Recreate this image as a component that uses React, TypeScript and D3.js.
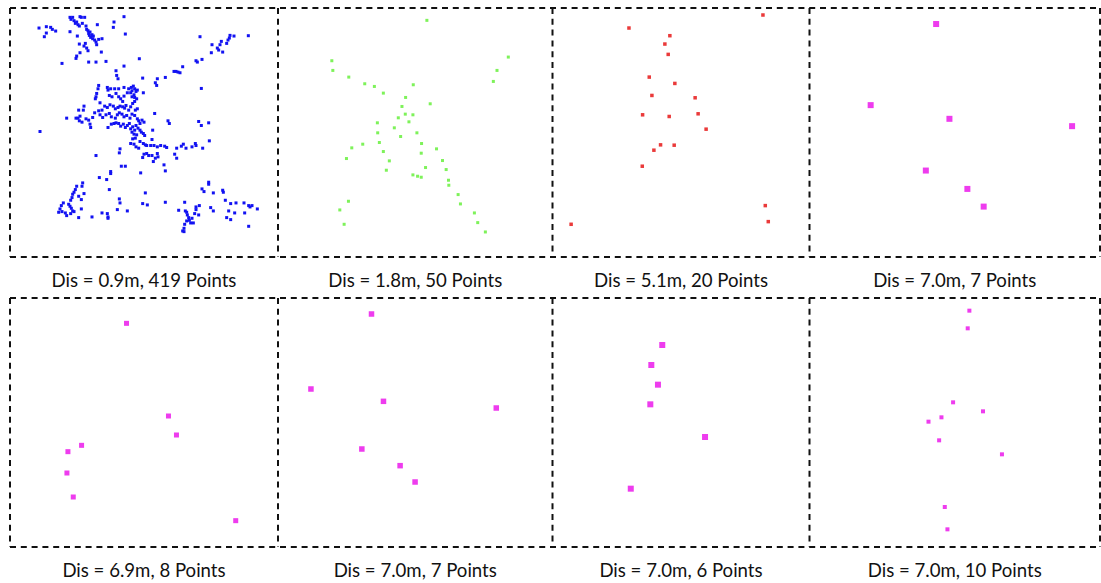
import React, { useEffect, useRef } from 'react'
import * as d3 from 'd3'

// point readings per scan, in the local frame units of each panel
const pts09 = [
  [117,84],[133,110],[139,99],[139,80],[152,82],[157,88],[167,93],
  [210,52],[213,58],[218,52],[222,62],[226,70],[230,66],[234,74],[238,78],[240,50],[244,52],[247,70],[254,52],[258,78],
  [260,88],[264,92],[266,100],[268,106],[270,96],[272,112],[276,104],[278,116],[280,108],[284,120],[288,126],[290,134],
  [292,74],[296,118],[306,116],[210,95],[232,108],[238,132],[252,138],[260,144],[264,152],[256,130],[304,156],[230,168],
  [228,175],[240,158],[186,190],[266,186],[288,186],[318,184],[342,66],[340,82],[372,50],[376,102],
  [600,110],[745,107],[690,106],[702,108],[688,114],[684,120],[680,130],[664,124],[660,134],[636,134],[652,144],[656,150],
  [668,156],[634,158],[606,178],[588,182],[592,186],[548,200],[534,216],[522,214],[528,214],[540,218],[496,232],[472,236],
  [466,248],[470,256],[604,265],[418,176],[372,198],[348,212],[350,226],[354,236],[428,234],
  [296,256],[294,266],[290,280],[288,290],[286,296],[322,262],[324,270],[332,266],[344,266],[356,266],[372,262],[386,266],
  [394,262],[400,258],[404,266],[396,272],[392,278],[408,274],[412,270],[402,284],[396,290],[404,292],[410,296],[404,304],
  [398,310],[430,278],[328,286],[336,290],[348,280],[356,290],[362,296],[372,288],[382,278],[368,304],[300,308],[314,318],
  [306,330],[322,322],[330,314],[340,318],[346,326],[354,322],[360,318],[368,320],[374,324],[378,316],[386,330],[392,320],
  [406,330],[412,326],[252,318],[250,330],[236,330],[228,354],[234,354],[240,348],[238,362],[246,366],[258,356],[266,360],
  [270,372],[272,382],[278,352],[284,338],[296,332],[300,344],[200,354],[308,352],[318,344],[328,340],[334,350],[346,354],
  [352,344],[358,338],[366,342],[372,350],[380,346],[390,354],[396,342],[404,346],[412,356],[416,362],[420,370],[426,360],
  [432,366],[464,340],[324,382],[334,372],[342,370],[348,368],[356,370],[362,378],[370,372],[376,382],[382,376],[388,370],
  [392,386],[398,380],[404,390],[408,376],[414,384],[420,390],[424,396],[430,400],[434,406],[396,396],[402,402],[410,404],
  [406,414],[398,416],[392,430],[402,432],[408,440],[416,444],[420,424],[430,430],[436,434],[458,390],[456,418],[120,394],
  [504,362],[508,370],[596,364],[604,376],[626,368],[628,422],[440,436],[452,436],[462,436],[472,440],[482,436],[494,438],
  [500,442],[472,460],[474,470],[466,474],[460,484],[456,466],[446,466],[432,462],[428,472],[440,460],[530,444],[524,462],
  [530,474],[544,438],[550,432],[558,444],[576,440],[586,430],[588,436],[608,444],[492,494],[496,512],[360,446],[358,458],
  [288,466],[364,498],[376,498],[332,514],[332,520],[298,532],[320,538],[422,518],
  [248,548],[246,558],[230,558],[226,568],[222,576],[218,582],[252,580],[216,592],[212,600],[206,612],[210,618],[214,624],
  [218,632],[190,608],[184,616],[180,626],[176,636],[186,634],[196,638],[200,646],[212,640],[222,634],[236,652],[244,626],
  [244,598],[236,588],[276,650],[306,638],[322,640],[324,650],[324,654],[352,628],[358,596],[360,608],[382,632],[328,568],
  [436,578],[428,610],[442,614],[496,606],
  [626,546],[626,552],[606,566],[612,574],[640,578],[668,570],[670,576],[676,600],[692,610],[708,608],[732,608],[746,616],
  [750,620],[756,616],[772,626],[734,638],[704,638],[686,632],[680,652],[692,658],[746,678],[632,622],[640,632],[598,616],
  [588,620],[588,628],[584,640],[596,644],[554,606],[536,630],[556,632],[560,636],[562,644],[566,652],[568,660],[572,668],
  [560,662],[554,672],[552,684],[548,692],[552,694],[576,654],[580,668]
]
const pts18 = [
  [456,61],[170,182],[173,211],[221,231],[269,251],[298,259],[325,279],[415,254],[392,292],[381,319],[466,311],[391,342],
  [414,344],[370,353],[402,365],[358,383],[307,368],[308,398],[377,409],[426,398],[313,427],[440,430],[230,443],[263,432],
  [214,475],[325,454],[439,459],[485,446],[343,482],[334,510],[503,481],[452,502],[414,524],[428,528],[439,531],[514,508],
  [521,540],[522,555],[550,583],[557,611],[599,638],[609,667],[632,695],[220,603],[194,629],[207,672],[701,171],[667,211],
  [656,244]
]
const pts51 = [
  [655,45],[252,84],[375,107],[360,132],[370,163],[313,231],[390,250],[321,286],[451,293],[293,344],[373,349],[460,341],
  [484,387],[347,434],[388,435],[327,450],[292,498],[662,616],[671,664],[78,672]
]
const pts70a = [[393,72],[196,315],[433,356],[802,378],[362,511],[487,566],[536,619]]
const pts69 = [[380,116],[506,394],[530,451],[245,482],[204,501],[201,565],[220,637],[708,708]]
const pts70b = [[291,88],[109,313],[327,350],[666,370],[262,493],[377,543],[422,592]]
const pts70c = [[353,181],[320,241],[340,300],[317,359],[482,457],[258,612]]
const pts70d = [[493,78],[488,131],[444,353],[534,380],[409,398],[370,411],[402,467],[591,509],[419,667],[427,734]]

const captions = [
  'Dis = 0.9m, 419 Points', 'Dis = 1.8m, 50 Points', 'Dis = 5.1m, 20 Points', 'Dis = 7.0m, 7 Points',
  'Dis = 6.9m, 8 Points', 'Dis = 7.0m, 7 Points', 'Dis = 7.0m, 6 Points', 'Dis = 7.0m, 10 Points'
]
// frame extent of each panel in the same units as the readings
const frameX = [[30,834],[8,834],[22,795],[12,886],[30,835],[10,835],[22,797],[12,886]]
const frameY = [[24,770],[24,770],[24,770],[24,770],[40,787],[40,787],[40,787],[40,787]]
const colors = ['#1212f2', '#7ef25a', '#ea3a3a', '#ee3cee', '#ee3cee', '#ee3cee', '#ee3cee', '#ee3cee']
const sizes = [3, 3, 3.5, 6, 5, 5.5, 6, 4]

const panelPoints = [pts09, pts18, pts51, pts70a, pts69, pts70b, pts70c, pts70d]

export default function App() {
  const svgRef = useRef(null)

  useEffect(() => {
    const W = 1101, H = 583
    const cols = [10, 278, 552.5, 809.5, 1100]
    const rows = [[8, 257], [298, 547]]

    const svg = d3.select(svgRef.current)
    svg.selectAll('*').remove()
    svg.attr('width', W).attr('height', H)
    svg.append('rect').attr('width', W).attr('height', H).attr('fill', '#fff')

    panelPoints.forEach((pts, i) => {
      const c = i % 4, r = Math.floor(i / 4)
      const x0 = cols[c], x1 = cols[c + 1]
      const [y0, y1] = rows[r]
      const x = d3.scaleLinear().domain(frameX[i]).range([x0, x1])
      const y = d3.scaleLinear().domain(frameY[i]).range([y0, y1])
      const g = svg.append('g').attr('class', 'panel')

      const s = sizes[i]
      g.selectAll('rect.pt')
        .data(pts)
        .enter().append('rect')
          .attr('class', 'pt')
          .attr('x', d => x(d[0]) - s / 2)
          .attr('y', d => y(d[1]) - s / 2)
          .attr('width', s)
          .attr('height', s)
          .attr('fill', colors[i])

      g.append('text')
        .attr('x', (x0 + x1) / 2)
        .attr('y', y1 + 30)
        .attr('text-anchor', 'middle')
        .style('font-family', 'Lato, "Open Sans", sans-serif')
        .style('font-size', '18.6px')
        .attr('fill', '#111')
        .text(captions[i])
    })

    // dashed frames: shared edges drawn once so the dashes stay dashed
    const frame = svg.append('g')
      .attr('fill', 'none')
      .attr('stroke', '#111')
      .attr('stroke-width', 2)
      .attr('stroke-dasharray', '6,4.8')
    rows.forEach(([y0, y1]) => {
      ;[y0, y1].forEach(yy => {
        frame.append('line').attr('x1', cols[0]).attr('x2', cols[4]).attr('y1', yy).attr('y2', yy)
      })
      cols.forEach(xx => {
        frame.append('line').attr('x1', xx).attr('x2', xx).attr('y1', y0).attr('y2', y1)
      })
    })
  }, [])

  return <svg ref={svgRef} style={{ position: 'absolute', left: 0, top: 0, display: 'block' }} />
}
